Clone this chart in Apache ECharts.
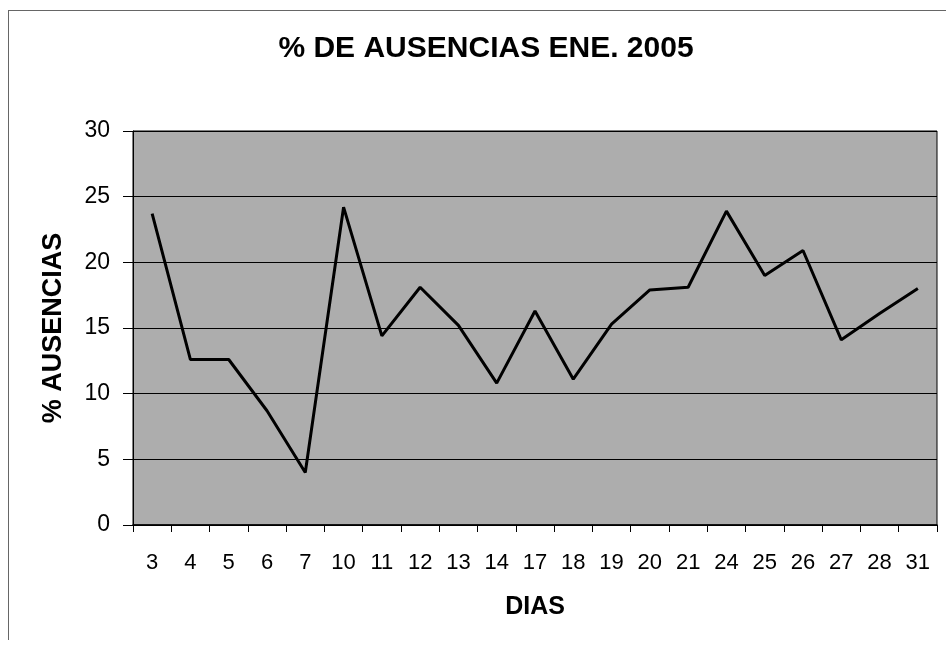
<!DOCTYPE html>
<html>
<head>
<meta charset="utf-8">
<script src="https://cdn.jsdelivr.net/npm/echarts@6/dist/echarts.min.js"></script>
<style>
    html, body { margin: 0; padding: 0; background: #fff; }
    .frame {
        position: absolute; left: 8px; top: 10px; width: 946px; height: 630px;
        border-top: 1px solid #666; border-left: 1px solid #666;
        box-sizing: border-box;
    }
    #chart { position: absolute; left: 0; top: 0; width: 946px; height: 652px; }
</style>
</head>
<body>
<div class="frame"></div>
<div id="chart"></div>
<script>
    // datos
    const dias = ['3', '4', '5', '6', '7', '10', '11', '12', '13', '14', '17',
                  '18', '19', '20', '21', '24', '25', '26', '27', '28', '31'];
    const ausencias = [23.7, 12.6, 12.6, 8.7, 4.0, 24.2, 14.4, 18.1, 15.2, 10.8, 16.3,
                       11.1, 15.3, 17.9, 18.1, 23.9, 19.0, 20.9, 14.1, 16.1, 18.0];

    const font = '"Liberation Sans", Arial, sans-serif';
    const myChart = echarts.init(document.getElementById('chart'));
    const option = {
        animation: false,
        title: {
            text: '% DE AUSENCIAS ENE. 2005',
            left: 481, top: 29, textAlign: 'center',
            textStyle: { fontFamily: font, fontSize: 30, fontWeight: 'bold', color: '#000' }
        },
        grid: {
            left: 133, top: 131, right: 9, bottom: 127,
            show: true, backgroundColor: '#adadad', borderColor: '#000', borderWidth: 1
        },
        xAxis: {
            type: 'category',
            data: dias,
            boundaryGap: true,
            name: 'DIAS',
            nameLocation: 'middle',
            nameGap: 70,
            nameTextStyle: { fontFamily: font, fontSize: 25, fontWeight: 'bold', color: '#000' },
            axisLine: { lineStyle: { color: '#000', width: 1.5 } },
            axisTick: { show: true, length: 7, lineStyle: { color: '#000' } },
            axisLabel: { fontFamily: font, fontSize: 22, color: '#000', margin: 27 }
        },
        yAxis: {
            type: 'value',
            min: 0, max: 30, interval: 5,
            name: '% AUSENCIAS',
            nameLocation: 'middle',
            nameGap: 66,
            nameTextStyle: { fontFamily: font, fontSize: 27, fontWeight: 'bold', color: '#000' },
            axisLine: { show: true, lineStyle: { color: '#000' } },
            axisTick: { show: true, length: 10, lineStyle: { color: '#000' } },
            axisLabel: { fontFamily: font, fontSize: 23, color: '#000', margin: 23 },
            splitLine: { lineStyle: { color: '#000', width: 1 } }
        },
        series: [{
            type: 'line',
            data: ausencias,
            symbol: 'none',
            lineStyle: { color: '#000', width: 3 }
        }]
    };
    myChart.setOption(option);
</script>
</body>
</html>
